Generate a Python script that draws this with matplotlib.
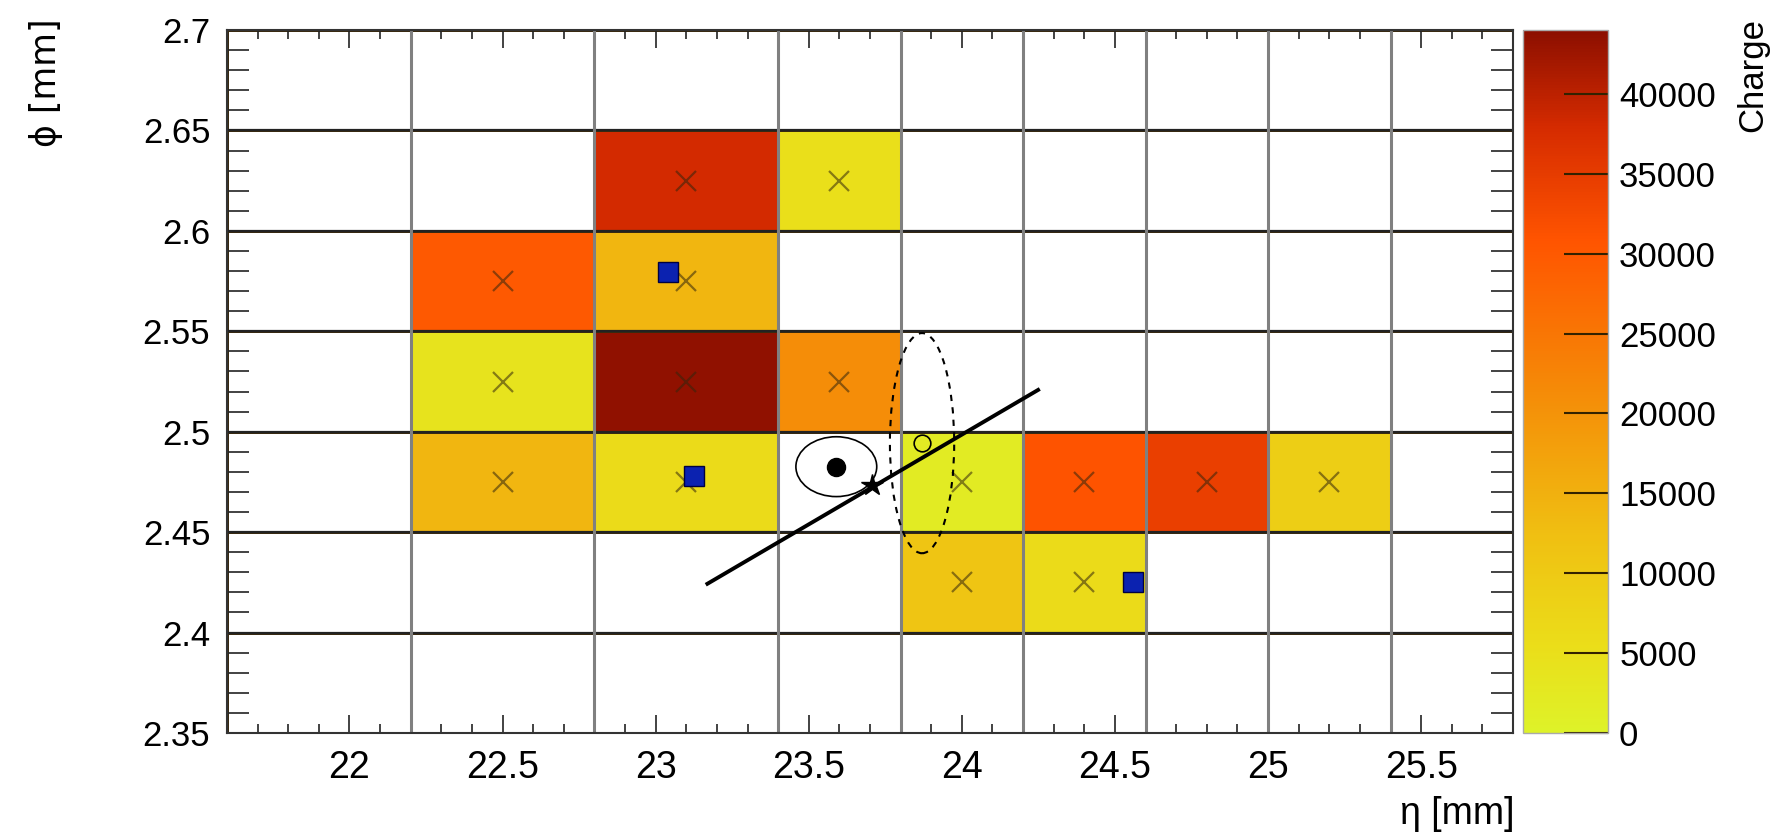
import numpy as np
import matplotlib
matplotlib.use("Agg")
import matplotlib.pyplot as plt
from matplotlib import font_manager
from matplotlib.colors import LinearSegmentedColormap
from matplotlib.patches import Ellipse
from matplotlib.ticker import MultipleLocator

plt.rcParams['font.family'] = ['Liberation Sans', 'DejaVu Sans']
installed = {f.name for f in font_manager.fontManager.ttflist}
narrow = 'Liberation Sans Narrow' if 'Liberation Sans Narrow' in installed else 'Liberation Sans'

# pad bin edges (variable width in eta)
eta_edges = [21.6, 22.2, 22.8, 23.4, 23.8, 24.2, 24.6, 25.0, 25.4, 25.8]
phi_edges = [2.35, 2.40, 2.45, 2.50, 2.55, 2.60, 2.65, 2.70]

# charge per pad, rows = phi bins from bottom, cols = eta bins (nan = empty)
nan = np.nan
charge = np.array([
    [nan, nan,   nan,   nan,   nan,   nan,   nan,   nan,  nan],
    [nan, nan,   nan,   nan,   11000, 6000,  nan,   nan,  nan],
    [nan, 14000, 6000,  nan,   2000,  31000, 34500, 9000, nan],
    [nan, 4000,  43500, 21000, nan,   nan,   nan,   nan,  nan],
    [nan, 30000, 14000, nan,   nan,   nan,   nan,   nan,  nan],
    [nan, nan,   38000, 5000,  nan,   nan,   nan,   nan,  nan],
    [nan, nan,   nan,   nan,   nan,   nan,   nan,   nan,  nan],
])
charge_max = 44000

# reconstructed points
blue_eta = [23.04, 23.125, 24.56]
blue_phi = [2.5794, 2.478, 2.4254]
dot = (23.59, 2.4826)
dot_ell = (0.264, 0.0298)
star = (23.706, 2.4735)
track_eta = [23.169, 24.249]
track_phi = [2.4243, 2.5208]
ring = (23.87, 2.4943)
ring_ell = (0.21, 0.1096)

cmap = LinearSegmentedColormap.from_list("charge", [
    (0.00, (0.87, 0.95, 0.16)),
    (0.12, (0.92, 0.87, 0.10)),
    (0.28, (0.94, 0.75, 0.07)),
    (0.48, (0.96, 0.55, 0.03)),
    (0.70, (1.00, 0.33, 0.00)),
    (0.86, (0.84, 0.17, 0.00)),
    (1.00, (0.55, 0.06, 0.00)),
])

fig = plt.figure(figsize=(17.88, 8.4), dpi=100)
ax = fig.add_axes([227/1788, 1-733/840, 1286/1788, 703/840])
cax = fig.add_axes([1523/1788, 1-733/840, 85/1788, 703/840])

mesh = ax.pcolormesh(eta_edges, phi_edges, np.ma.masked_invalid(charge),
                     cmap=cmap, vmin=0, vmax=charge_max,
                     edgecolor='#3a2a10', linewidth=1.0)

# grid: horizontal at major phi ticks, vertical at pad edges
for y in phi_edges[1:-1]:
    ax.axhline(y, color='#222222', lw=1.6, zorder=2)
ax.vlines(eta_edges[1:-1], phi_edges[0], phi_edges[-1], color='#808080', lw=2.2, zorder=2)

# pad centres with charge
ec = 0.5 * (np.array(eta_edges[:-1]) + np.array(eta_edges[1:]))
pc = 0.5 * (np.array(phi_edges[:-1]) + np.array(phi_edges[1:]))
EC, PC = np.meshgrid(ec, pc)
has = ~np.isnan(charge)
ax.plot(EC[has], PC[has], ls='none', marker='x', ms=14, mew=1.6,
        color=(0.2, 0.15, 0.05, 0.55), zorder=3)

ax.plot(blue_eta, blue_phi, ls='none', marker='s', ms=14, mfc='#0b22b0',
        mec='#000040', mew=1, zorder=5)

ax.plot(track_eta, track_phi, color='black', lw=2.8, zorder=4)
ax.add_patch(Ellipse(dot, dot_ell[0], dot_ell[1], fill=False, ec='black', lw=1.2, zorder=4))
ax.plot(*dot, marker='o', ms=13, color='black', zorder=5)
ax.plot(*star, marker='*', ms=16, color='black', zorder=5)
ax.add_patch(Ellipse(ring, ring_ell[0], ring_ell[1], fill=False, ec='black', lw=1.5,
                     ls=(0, (3, 3)), zorder=4))
ax.plot(*ring, marker='o', ms=12, mfc='none', mec='black', mew=1.2, zorder=5)

ax.set_xlim(eta_edges[0], eta_edges[-1])
ax.set_ylim(phi_edges[0], phi_edges[-1])
ax.xaxis.set_minor_locator(MultipleLocator(0.1))
ax.yaxis.set_minor_locator(MultipleLocator(0.01))
ax.set_yticks([2.35, 2.4, 2.45, 2.5, 2.55, 2.6, 2.65, 2.7])
ax.set_yticklabels(['2.35', '2.4', '2.45', '2.5', '2.55', '2.6', '2.65', '2.7'])
ax.set_xticks([22, 22.5, 23, 23.5, 24, 24.5, 25, 25.5])
ax.set_xticklabels(['22', '22.5', '23', '23.5', '24', '24.5', '25', '25.5'],
                   family=[narrow, 'DejaVu Sans'])
ax.tick_params(axis='x', which='major', direction='in', top=True, length=13, width=1.2,
               labelsize=27, pad=12, color='#222222')
ax.tick_params(axis='x', which='minor', direction='in', top=True, length=6.5, width=1.2,
               color='#222222')
ax.tick_params(axis='y', which='major', direction='in', right=True, length=16, width=1.2,
               labelsize=25, pad=12, color='#222222')
ax.tick_params(axis='y', which='minor', direction='in', right=True, length=16, width=1.2,
               color='#222222')
for s in ax.spines.values():
    s.set_linewidth(1.5)
    s.set_color('#333333')

cb = fig.colorbar(mesh, cax=cax)
cb.set_ticks(np.arange(0, 40001, 5000))
cb.ax.tick_params(direction='in', length=32, width=1.5, labelsize=25, pad=8, color='#332200')
cb.outline.set_linewidth(1.0)
cb.outline.set_edgecolor('#aaaaaa')

fig.text(1753/1788, 1-18/840, 'Charge', rotation=90, ha='center', va='top', fontsize=25)
fig.text(46/1788, 1-18/840, 'ϕ [mm]', rotation=90, ha='center', va='top', fontsize=25,
         family=['DejaVu Sans'])
fig.text(1514/1788, 1-814/840, 'η [mm]', ha='right', va='center', fontsize=27,
         family=[narrow, 'DejaVu Sans'])

fig.savefig('out.png', dpi=100)
